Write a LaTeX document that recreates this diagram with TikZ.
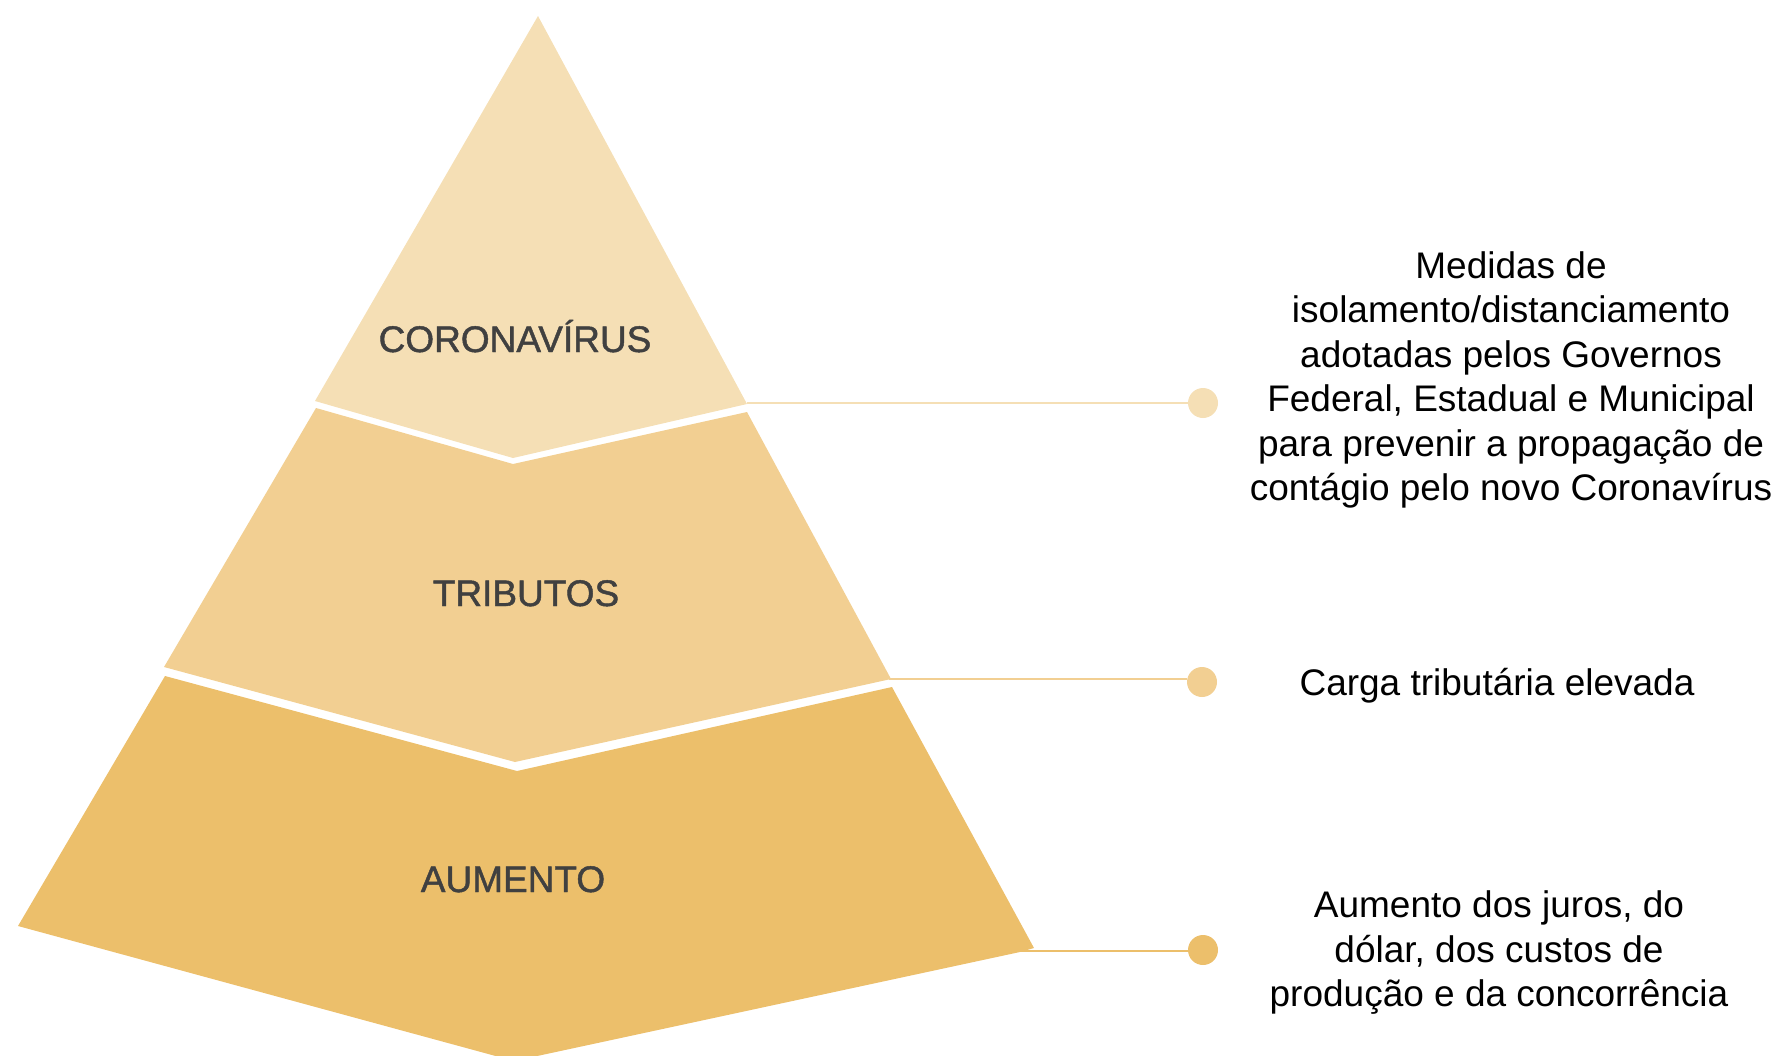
\documentclass[tikz,border=0pt]{standalone}
\usepackage{fontspec}
\setmainfont{Liberation Sans}
\newfontfamily\lblfont[FakeBold=1.2]{Liberation Sans}
\definecolor{cA}{HTML}{F5DFB5}
\definecolor{cB}{HTML}{F2CF92}
\definecolor{cC}{HTML}{ECBF6B}
\definecolor{lbl}{HTML}{404040}
\tikzset{
  piece/.style={draw=none},
  dotnode/.style={circle, minimum size=30pt, inner sep=0pt, draw=none},
  conn/.style={line width=2pt},
  lvl/.style={anchor=base, text=lbl, font=\lblfont\fontsize{37}{44}\selectfont},
  desc/.style={align=center, text=black, font=\fontsize{37}{44.5}\selectfont, inner sep=0pt}
}
\begin{document}
\begin{tikzpicture}[x=1pt,y=-1pt]
\useasboundingbox (0,0) rectangle (1783,1055);
\clip (0,0) rectangle (1783,1055);
% pieces
\fill[cA, piece] (538,16) -- (747,404) -- (513,458) -- (315,401) -- cycle;
\fill[cB, piece] (316,408) -- (513,464) -- (747,412) -- (891,679) -- (515,762) -- (164,667) -- cycle;
\fill[cC, piece] (165,676) -- (517,771) -- (892,687) -- (1034,948) -- (1020,952) -- (514,1061) -- (18,926) -- cycle;
% labels
\node[lvl] (l1) at (515,352) {CORONAVÍRUS};
\node[lvl] (l2) at (526,606) {TRIBUTOS};
\node[lvl] (l3) at (513,892) {AUMENTO};
% anchors
\coordinate (r1) at (747,403);
\coordinate (r2) at (889,679);
\coordinate (r3) at (1020,951);
% dots
\node[dotnode, fill=cA] (d1) at (1203,403) {};
\node[dotnode, fill=cB] (d2) at (1202,682) {};
\node[dotnode, fill=cC] (d3) at (1203,950) {};
% connectors
\draw[conn, cA] (r1) -- (r1 -| d1.west);
\draw[conn, cB] (r2) -- (r2 -| d2.west);
\draw[conn, cC] (r3) -- (r3 -| d3.west);
% descriptions
\node[desc] (t1) at (1511,380) {Medidas de\\isolamento/distanciamento\\adotadas pelos Governos\\Federal, Estadual e Municipal\\para prevenir a propagação de\\contágio pelo novo Coronavírus};
\node[desc, anchor=base] (t2) at (1497,695) {Carga tributária elevada};
\node[desc] (t3) at (1499,953) {Aumento dos juros, do\\dólar, dos custos de\\produção e da concorrência};
\end{tikzpicture}
\end{document}
